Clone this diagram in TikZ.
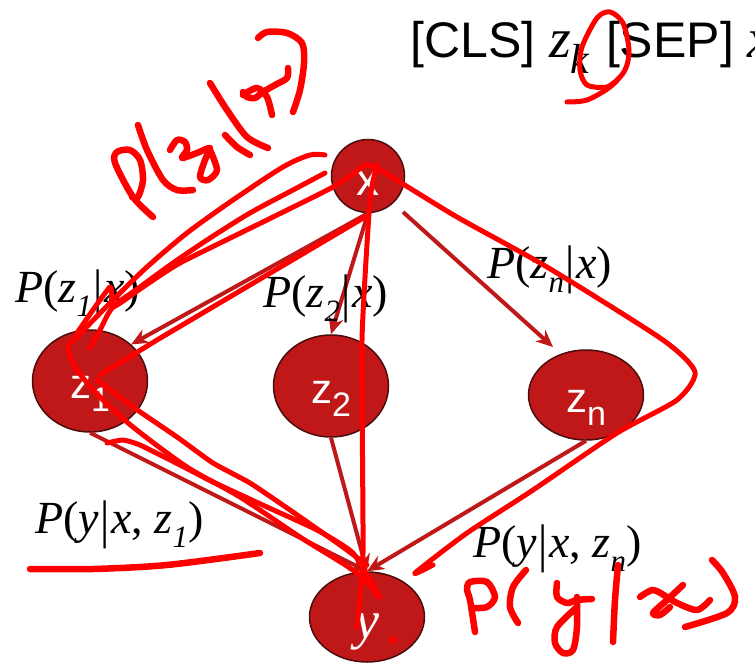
\documentclass[tikz,border=0pt]{standalone}
\usepackage{fontspec}
\setmainfont{Liberation Serif}
\setsansfont{Liberation Sans}
\usetikzlibrary{shapes.geometric, arrows.meta}
\definecolor{nodered}{HTML}{C01818}
\definecolor{noderim}{HTML}{4A0C0C}
\newcommand{\lowsub}[1]{\raisebox{-0.32em}{\fontsize{31}{31}\selectfont\textit{#1}}}
\newcommand{\nodesub}[1]{\raisebox{-0.33em}{\fontsize{34}{34}\selectfont #1}}
\newcommand{\dropped}[2]{\raisebox{-#1pt}[0pt][0pt]{#2}}
\newcommand{\tallbar}{\hspace{1.5pt}\raisebox{-0.1em}{\scalebox{1}[1.15]{|}}\hspace{1.5pt}}
\tikzset{
	latent/.style={ellipse, draw=noderim, fill=nodered, line width=1.5pt, inner sep=0pt, text=white, font=\sffamily\fontsize{42}{42}\selectfont},
	edge/.style={-{Stealth[length=17pt, width=15pt]}, draw=nodered, line width=4pt},
	prob/.style={anchor=base west, inner sep=0pt, font=\fontsize{46}{46}\selectfont},
	ink/.style={draw=red, line width=5pt, line cap=round, line join=round},
	pen/.style={draw=red, line width=6.5pt, line cap=round, line join=round}
}
\begin{document}
\begin{tikzpicture}[x=1pt, y=-1pt, >=stealth]
	\useasboundingbox (0,0) rectangle (755,663);
	\clip (0,0) rectangle (755,663);
	% title
	\node[anchor=base west, inner sep=0pt, font=\sffamily\fontsize{50}{50}\selectfont] (title) at (410,58) {[CLS] {\rmfamily\fontsize{56}{56}\selectfont\textit{z}\raisebox{-0.28em}{\fontsize{42}{42}\selectfont\textit{k}}}\hspace{2pt} [SEP] {\rmfamily\fontsize{56}{56}\selectfont\textit{x}}};
	% nodes
	\node[latent, minimum width=73pt, minimum height=73pt, font=\sffamily\fontsize{46}{46}\selectfont] (x) at (368,176) {\dropped{20}{x}};
	\foreach \name / \cx / \cy / \tall / \txt in {zone/90/381/102/1, ztwo/331/386/102/2, zn/586/395/90/n} {
		\node[latent, minimum width=115pt, minimum height=\tall pt] (\name) at (\cx,\cy) {\dropped{17}{z\nodesub{\txt}}};
	}
	\node[latent, minimum width=115pt, minimum height=90pt, font=\rmfamily\itshape\fontsize{54}{54}\selectfont] (y) at (367,617) {\dropped{21}{y}};
	% free ends of the floating arrow
	\coordinate (xout) at (403,212);
	\coordinate (znin) at (553,347);
	% arrows
	\foreach \from / \to in {x.south/zone.north east, x.south/ztwo.north, xout/znin, zone.south/y.north, ztwo.south/y.north, zn.south/y.north} {
		\draw[edge] (\from) -- (\to);
	}
	% labels
	\node[prob] (pzone) at (15,302) {\textit{P}(\textit{z}\lowsub{1}\tallbar\textit{x})};
	\node[prob] (pztwo) at (263,307) {\textit{P}(\textit{z}\lowsub{2}\tallbar\textit{x})};
	\node[prob] (pzn) at (487,278) {\textit{P}(\textit{z}\lowsub{n}\tallbar\textit{x})};
	\node[prob] (pyone) at (35,533) {\textit{P}(\textit{y}\tallbar\textit{x}, \textit{z}\lowsub{1})};
	\node[prob] (pyn) at (473,557) {\textit{P}(\textit{y}\tallbar\textit{x}, \textit{z}\lowsub{n})};
	% pen strokes: ring at top
	\draw[ink] plot[smooth] coordinates {(567,102) (587,100) (610,87) (625,70) (629,50) (623,23) (610,12) (597,18) (582,47) (580,70) (587,85) (607,87) (620,77)};
	% pen strokes: P(z1|x)
	\draw[pen] plot[smooth] coordinates {(153,217) (133,197) (115,163) (117,152) (130,150) (140,160) (143,180) (138,197) (132,197)};
	\draw[pen] plot[smooth] coordinates {(138,125) (147,150) (163,180) (177,190) (193,190)};
	\draw[pen] plot[smooth] coordinates {(170,150) (177,140) (185,142) (187,150) (182,158) (197,153) (210,148) (205,160) (200,177) (208,180) (217,170) (210,150)};
	\draw[pen] plot[smooth] coordinates {(225,135) (237,147) (250,155)};
	\draw[pen] plot[smooth] coordinates {(210,83) (227,110) (247,137) (268,148)};
	\draw[pen] plot[smooth] coordinates {(243,95) (257,88) (267,97) (272,115)};
	\draw[pen] plot[smooth] coordinates {(288,68) (287,78) (275,85) (263,92) (255,98) (247,97) (243,92)};
	\draw[pen] plot[smooth] coordinates {(258,38) (267,32) (287,33) (302,43) (304,63) (300,90) (293,112)};
	% pen strokes: x to z1 and on to y
	\draw[ink] plot[smooth, tension=0.5] coordinates {(325,155) (310,155) (283,167) (233,200) (187,233) (147,267) (113,300) (77,337) (68,348) (77,370) (100,397) (133,427) (187,467) (240,497) (300,537) (357,573) (378,597)};
	\draw[ink] plot[smooth, tension=0.5] coordinates {(325,173) (293,190) (250,213) (207,240) (173,263) (140,287) (113,307) (100,330) (90,348)};
	\draw[ink] plot[smooth, tension=0.3] coordinates {(77,333) (110,287) (113,307) (143,287) (180,263) (267,220) (333,187) (365,165)};
	\draw[ink] (365,217) -- (157,340) -- (100,375);
	\draw[ink] plot[smooth, tension=0.3] coordinates {(97,380) (133,407) (177,437) (213,463) (250,483) (290,510) (340,545) (367,565)};
	\draw[ink] plot[smooth, tension=0.3] coordinates {(107,443) (123,440) (140,445) (180,465) (213,482) (267,507) (317,530) (353,553) (380,597)};
	% pen strokes: x to y
	\draw[ink] plot[smooth, tension=0.3] coordinates {(377,165) (370,200) (362,340) (363,553) (357,627)};
	\draw[ink] plot[smooth, tension=0.4] coordinates {(365,165) (380,170) (457,217) (547,267) (663,340) (695,372) (677,400) (617,433) (533,490) (467,533) (415,573) (433,565)};
	\fill[red] (393,640) circle (4);
	% pen strokes: underline
	\draw[pen] plot[smooth] coordinates {(30,569) (93,569) (167,565) (260,553)};
	% pen strokes: P(y|x)
	\draw[pen] plot[smooth, tension=0.5] coordinates {(475,632) (470,600) (467,590) (470,582) (487,582) (495,597) (487,607) (472,608)};
	\draw[pen] plot[smooth] coordinates {(526,570) (513,587) (510,607) (518,623)};
	\draw[pen] plot[smooth] coordinates {(557,583) (557,597) (567,603) (577,600) (592,599)};
	\draw[pen] plot[smooth] coordinates {(577,597) (577,627) (573,650) (563,653) (555,643) (557,627) (577,607)};
	\draw[pen] plot[smooth] coordinates {(618,565) (615,600) (613,642)};
	\draw[pen] plot[smooth] coordinates {(640,597) (653,590) (667,597) (677,603) (697,610) (710,600)};
	\draw[pen] plot[smooth] coordinates {(683,585) (667,600) (653,613) (660,615) (670,607)};
	\draw[pen] plot[smooth] coordinates {(712,560) (723,573) (735,597) (727,613) (685,627)};
\end{tikzpicture}
\end{document}
